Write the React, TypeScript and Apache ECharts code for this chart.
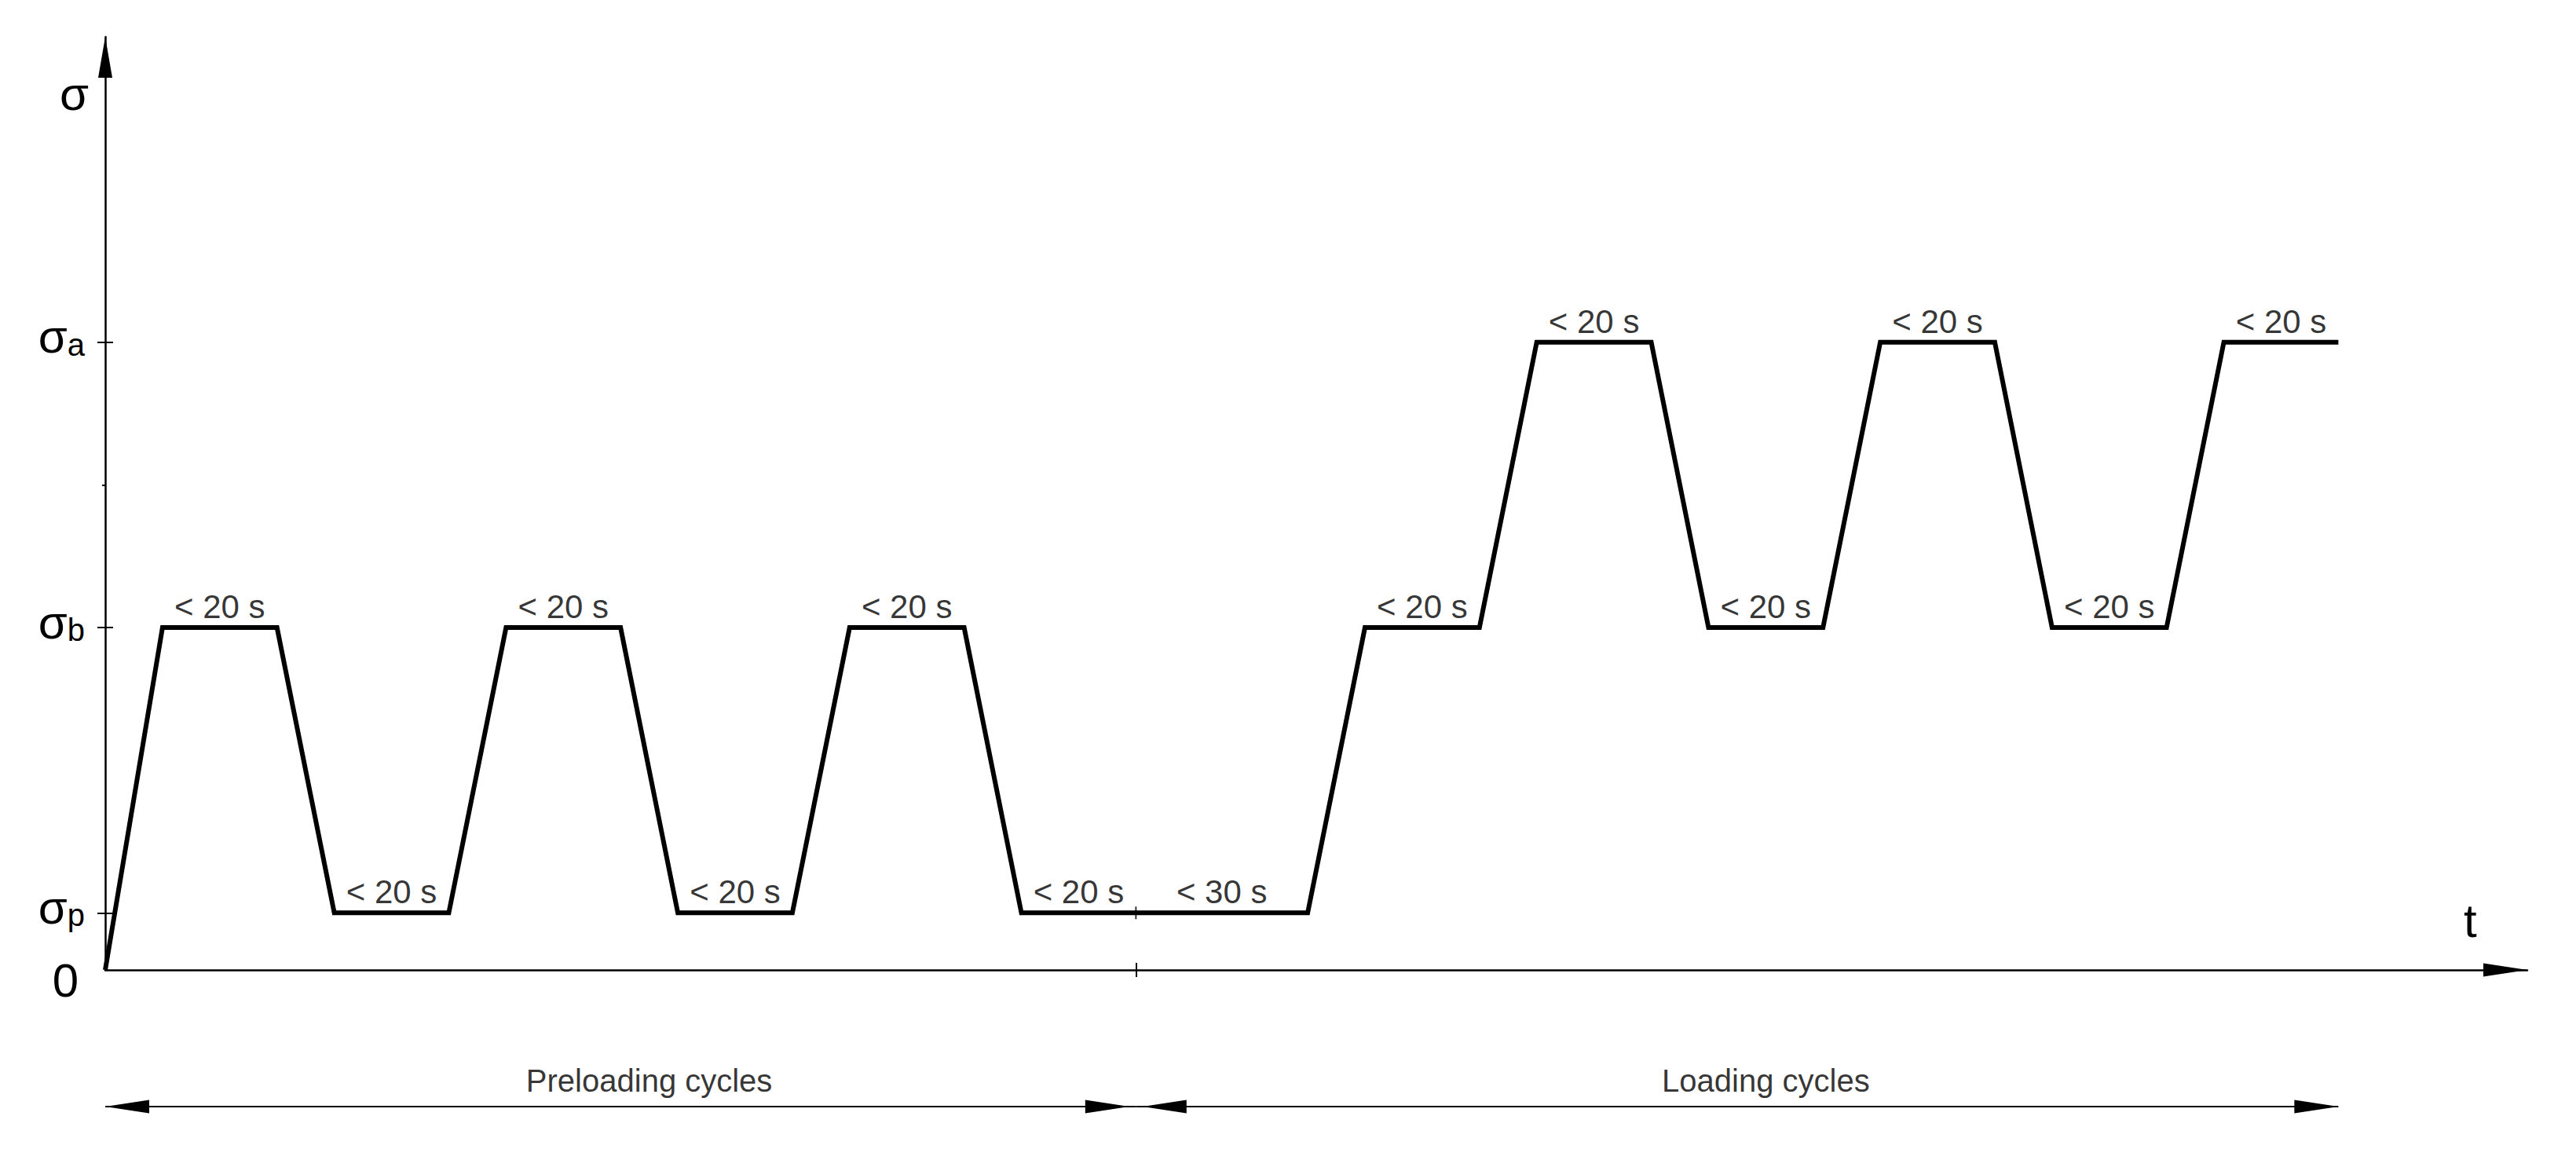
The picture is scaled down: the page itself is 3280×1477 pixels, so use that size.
import React, { useEffect, useRef } from 'react';
import * as echarts from 'echarts';

// Stress–time loading programme
const waveT = [0, 1, 3, 4, 6, 7, 9, 10, 12, 13, 15, 16, 21, 22, 24, 25, 27, 28, 30, 31, 33, 34, 36, 37, 39];
const waveSigma = [0, 6, 6, 1, 1, 6, 6, 1, 1, 6, 6, 1, 1, 6, 6, 11, 11, 6, 6, 11, 11, 6, 6, 11, 11];

// hold-time labels (centre of each plateau)
const holdT = [2, 5, 8, 11, 14, 17, 19.5, 23, 26, 29, 32, 35, 38];
const holdSigma = [6, 1, 6, 1, 6, 1, 1, 6, 11, 6, 11, 6, 11];
const holdText = ['< 20 s', '< 20 s', '< 20 s', '< 20 s', '< 20 s', '< 20 s', '< 30 s', '< 20 s', '< 20 s', '< 20 s', '< 20 s', '< 20 s', '< 20 s'];

// axes
const sigmaTickValues = [1, 6, 11];
const sigmaTickSubs = ['p', 'b', 'a'];
const sigmaOrigin = [0];
const sigmaMinorTicks = [8.5];
const timeTickValues = [18];
const lineTickT = [18];
const lineTickSigma = [1];
const T_MAX = 42.3;
const SIGMA_MAX = 16.35;

// phases
const phaseNames = ['Preloading cycles', 'Loading cycles'];
const phaseStart = [0, 18];
const phaseEnd = [18, 39];
const phaseLabelT = [9.5, 29];

const FONT = '"Liberation Sans", Arial, sans-serif';
const BLACK = '#000';

export default function App() {
  const ref = useRef<HTMLDivElement>(null);

  useEffect(() => {
    if (!ref.current) return;
    const chart = echarts.init(ref.current, undefined, { renderer: 'svg' });

    const boundary = phaseEnd[0];
    const arrowEnd = (t: number) =>
      t === boundary ? { coord: [t, 1], symbolOffset: [0, 36.5] } : { coord: [t, 1] };

    const option: any = {
      animation: false,
      backgroundColor: '#fff',
      grid: [
        { left: 134, top: 47, width: 3084, height: 1188, containLabel: false, outerBoundsMode: 'none' },
        { left: 134, top: 1379, width: 3084, height: 60, containLabel: false, outerBoundsMode: 'none' },
      ],
      xAxis: [
        {
          type: 'value', gridIndex: 0, position: 'bottom', min: 0, max: T_MAX,
          axisLine: {
            show: true, onZero: false,
            lineStyle: { color: BLACK, width: 2.5 },
            symbol: ['none', 'triangle'], symbolSize: [17, 56], symbolOffset: [0, -28],
          },
          axisTick: { show: true, customValues: timeTickValues, length: 9, inside: false, lineStyle: { color: BLACK, width: 2 } },
          axisLabel: { show: false },
          splitLine: { show: false },
          name: 't', nameLocation: 'end', nameGap: -81, nameMoveOverlap: false,
          nameTextStyle: { fontSize: 60, fontFamily: FONT, color: BLACK, align: 'left', verticalAlign: 'bottom', lineHeight: 126 },
        },
        {
          type: 'value', gridIndex: 0, position: 'bottom', min: 0, max: T_MAX,
          axisLine: { show: false, onZero: false },
          axisTick: { show: true, customValues: timeTickValues, length: 9, inside: true, lineStyle: { color: BLACK, width: 2 } },
          axisLabel: { show: false },
          splitLine: { show: false },
        },
        { type: 'value', gridIndex: 1, min: 0, max: T_MAX, show: false },
      ],
      yAxis: [
        {
          type: 'value', gridIndex: 0, position: 'left', min: 0, max: SIGMA_MAX,
          axisLine: {
            show: true, onZero: false,
            lineStyle: { color: BLACK, width: 2.5 },
            symbol: ['none', 'triangle'], symbolSize: [18, 52], symbolOffset: [0, -26],
          },
          axisTick: { show: true, customValues: sigmaTickValues, length: 10, inside: false, lineStyle: { color: BLACK, width: 2 } },
          axisLabel: {
            show: true,
            customValues: sigmaTickValues,
            showMinLabel: true,
            showMaxLabel: true,
            hideOverlap: false,
            margin: 26,
            padding: [0, 0, 14, 0],
            formatter: (v: number) => {
              const i = sigmaTickValues.indexOf(v);
              return `{sig|σ}{sub|${sigmaTickSubs[i]}}`;
            },
            rich: {
              sig: { fontSize: 60, fontFamily: FONT, color: BLACK, lineHeight: 60, verticalAlign: 'bottom' },
              sub: { fontSize: 40, fontFamily: FONT, color: BLACK, lineHeight: 46, verticalAlign: 'bottom' },
            },
          },
          splitLine: { show: false },
          name: 'σ', nameLocation: 'end', nameGap: -72, nameMoveOverlap: false,
          nameTextStyle: { fontSize: 60, fontFamily: FONT, color: BLACK, align: 'right', verticalAlign: 'middle', padding: [0, 21, 0, 0] },
        },
        {
          type: 'value', gridIndex: 0, position: 'left', min: 0, max: SIGMA_MAX,
          axisLine: { show: false, onZero: false },
          axisTick: { show: true, customValues: sigmaTickValues, length: 10, inside: true, lineStyle: { color: BLACK, width: 2 } },
          axisLabel: { show: false },
          splitLine: { show: false },
        },
        {
          type: 'value', gridIndex: 0, position: 'left', min: 0, max: SIGMA_MAX,
          axisLine: { show: false, onZero: false },
          axisTick: { show: true, customValues: sigmaMinorTicks, length: 4, inside: false, lineStyle: { color: BLACK, width: 2 } },
          axisLabel: {
            show: true,
            customValues: sigmaOrigin,
            showMinLabel: true,
            hideOverlap: false,
            margin: 34,
            fontSize: 60, fontFamily: FONT, color: BLACK,
            lineHeight: 26,
            verticalAlign: 'top',
            formatter: (v: number) => String(v),
          },
          splitLine: { show: false },
        },
        { type: 'value', gridIndex: 1, min: 0, max: 2, show: false },
      ],
      series: [
        {
          type: 'line', xAxisIndex: 0, yAxisIndex: 0,
          data: waveT.map((t, i) => [t, waveSigma[i]]),
          symbol: 'none', showSymbol: false, silent: true, clip: false, z: 5,
          lineStyle: { color: BLACK, width: 6, join: 'miter', cap: 'butt' },
        },
        {
          type: 'scatter', xAxisIndex: 0, yAxisIndex: 0, silent: true, clip: false, z: 6,
          data: holdT.map((t, i) => [t, holdSigma[i]]),
          symbolSize: 1,
          itemStyle: { color: 'rgba(0,0,0,0)' },
          label: {
            show: true, position: 'top', distance: 5,
            fontSize: 42, fontFamily: FONT, color: BLACK,
            formatter: (p: any) => holdText[p.dataIndex],
          },
        },
        {
          type: 'scatter', xAxisIndex: 0, yAxisIndex: 0, silent: true, clip: false, z: 7,
          data: lineTickT.map((t, i) => [t, lineTickSigma[i]]),
          symbol: 'rect', symbolSize: [2, 16],
          itemStyle: { color: BLACK },
        },
        {
          type: 'scatter', xAxisIndex: 2, yAxisIndex: 3, silent: true, clip: false,
          data: phaseLabelT.map((t, i) => ({ value: [t, 1], name: phaseNames[i] })),
          symbolSize: 1,
          itemStyle: { color: 'rgba(0,0,0,0)' },
          label: {
            show: true, position: 'top', distance: 13,
            fontSize: 40, fontFamily: FONT, color: BLACK,
            formatter: '{b}',
          },
          markLine: {
            silent: true,
            symbol: ['triangle', 'triangle'],
            symbolSize: [17, 56],
            symbolOffset: [[0, 28], [0, 28]],
            label: { show: false },
            emphasis: { disabled: true },
            lineStyle: { color: BLACK, width: 2, type: 'solid' },
            data: phaseStart.map((s, i) => [arrowEnd(s), arrowEnd(phaseEnd[i])]),
          },
        },
      ],
    };

    chart.setOption(option);
    return () => chart.dispose();
  }, []);

  return (
    <div
      ref={ref}
      style={{ position: 'absolute', left: 0, top: 0, width: 3280, height: 1477, background: '#fff' }}
    />
  );
}
